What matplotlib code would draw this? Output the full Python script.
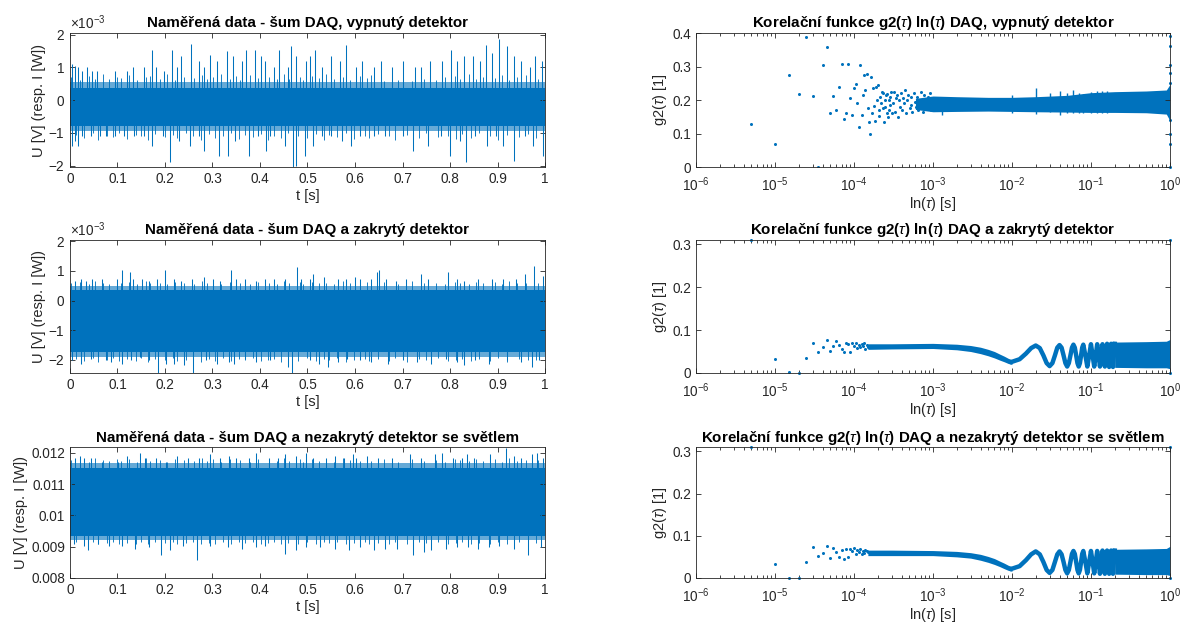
import numpy as np
import matplotlib
matplotlib.use("Agg")
import matplotlib.pyplot as plt
from matplotlib import ticker

plt.rcParams['font.family'] = ['Liberation Sans', 'DejaVu Sans']
plt.rcParams['mathtext.fontset'] = 'custom'
plt.rcParams['mathtext.rm'] = 'Liberation Sans'
plt.rcParams['mathtext.it'] = 'Liberation Sans:italic'
plt.rcParams['axes.unicode_minus'] = False

BLUE = '#0072BD'
GREY = '#262626'
DT = 5e-6  # lag step of the correlation [s]

# ---------------- measured noise (left column) ----------------
# row 1: DAQ noise, detector off  [mV]
core1 = (-0.78, 0.37)
fringe1 = (-0.95, 0.55)
t1_up = [0.005, 0.011, 0.017, 0.025, 0.036, 0.047, 0.057, 0.094, 0.12, 0.132,
         0.155, 0.173, 0.181, 0.197, 0.215, 0.226, 0.234, 0.254, 0.271, 0.282,
         0.294, 0.309, 0.33, 0.343, 0.362, 0.371, 0.39, 0.403, 0.411, 0.43,
         0.44, 0.458, 0.466, 0.476, 0.497, 0.505, 0.516, 0.531, 0.55, 0.569,
         0.58, 0.603, 0.614, 0.64, 0.655, 0.678, 0.70, 0.727, 0.738, 0.757,
         0.784, 0.803, 0.814, 0.829, 0.848, 0.863, 0.876, 0.889, 0.903, 0.919,
         0.934, 0.949, 0.968, 0.978, 0.993]
v1_up = [1.09, 1.04, 1.0, 0.88, 1.0, 0.88, 0.88, 0.88, 0.88, 1.0,
         1.0, 1.54, 1.0, 0.88, 1.54, 1.0, 1.34, 1.72, 1.19, 1.0,
         1.39, 1.19, 1.49, 1.34, 1.19, 1.54, 1.54, 1.34, 1.19, 1.0,
         1.54, 1.0, 1.64, 1.34, 1.19, 1.34, 1.54, 1.0, 1.34, 1.19,
         1.69, 1.0, 1.19, 1.0, 1.19, 1.0, 1.19, 1.0, 1.0, 1.19,
         1.19, 1.54, 1.19, 1.34, 1.34, 1.19, 1.69, 1.44, 1.87, 1.64,
         1.34, 1.19, 1.0, 1.34, 1.19]
t1_dn = [0.005, 0.01, 0.017, 0.026, 0.045, 0.064, 0.075, 0.094, 0.113, 0.135,
         0.155, 0.173, 0.196, 0.21, 0.23, 0.253, 0.271, 0.283, 0.313, 0.332,
         0.347, 0.377, 0.396, 0.413, 0.422, 0.452, 0.469, 0.476, 0.494, 0.511,
         0.531, 0.55, 0.573, 0.592, 0.611, 0.641, 0.663, 0.701, 0.723, 0.754,
         0.78, 0.80, 0.822, 0.833, 0.852, 0.878, 0.897, 0.912, 0.935, 0.958,
         0.974, 0.995]
v1_dn = [-1.4, -1.25, -1.4, -1.1, -1.1, -1.1, -1.1, -1.1, -1.1, -1.1,
         -1.1, -1.4, -1.1, -1.9, -1.25, -1.4, -1.1, -1.55, -1.71, -1.71,
         -1.25, -1.71, -1.1, -1.55, -1.1, -1.4, -2.06, -2.01, -1.71, -1.4,
         -1.1, -1.1, -1.25, -1.4, -1.1, -1.1, -1.1, -1.1, -1.55, -1.4,
         -1.1, -1.71, -1.25, -1.9, -1.1, -1.4, -1.1, -1.4, -1.86, -1.1,
         -1.4, -1.71]

# short excursions just outside the dense band (same time positions in every row)
tm_up = [0.003, 0.021, 0.04, 0.052, 0.07, 0.083, 0.1, 0.108, 0.125, 0.142,
         0.16, 0.168, 0.19, 0.205, 0.221, 0.24, 0.262, 0.277, 0.288, 0.302,
         0.318, 0.336, 0.35, 0.357, 0.38, 0.396, 0.42, 0.435, 0.45, 0.462,
         0.484, 0.49, 0.51, 0.525, 0.54, 0.556, 0.575, 0.59, 0.61, 0.625,
         0.633, 0.66, 0.69, 0.72, 0.745, 0.77, 0.79, 0.81, 0.82, 0.84,
         0.855, 0.87, 0.895, 0.91, 0.925, 0.94, 0.96, 0.985]
tm_dn = [0.012, 0.03, 0.048, 0.058, 0.078, 0.09, 0.104, 0.12, 0.138, 0.15,
         0.164, 0.18, 0.2, 0.216, 0.226, 0.245, 0.258, 0.275, 0.292, 0.305,
         0.322, 0.34, 0.355, 0.368, 0.385, 0.402, 0.416, 0.43, 0.445, 0.458,
         0.48, 0.5, 0.518, 0.535, 0.545, 0.562, 0.58, 0.598, 0.62, 0.63,
         0.648, 0.672, 0.685, 0.71, 0.735, 0.75, 0.775, 0.795, 0.812, 0.826,
         0.845, 0.862, 0.885, 0.9, 0.92, 0.945, 0.965, 0.98]
m1_up = [0.7, 0.62, 0.75, 0.66, 0.8, 0.64, 0.72, 0.68, 0.78, 0.63,
         0.7, 0.74, 0.66, 0.8, 0.62, 0.72, 0.69, 0.76, 0.64, 0.7,
         0.8, 0.66, 0.73, 0.62, 0.77, 0.68, 0.7, 0.64, 0.79, 0.66,
         0.72, 0.63, 0.75, 0.68, 0.8, 0.65, 0.7, 0.62, 0.74, 0.67,
         0.78, 0.6, 0.62, 0.6, 0.66, 0.62, 0.7, 0.74, 0.66, 0.8,
         0.64, 0.72, 0.68, 0.76, 0.63, 0.7, 0.78, 0.66]
m1_dn = [-1.05, -1.15, -1.0, -1.2, -1.08, -1.12, -1.0, -1.18, -1.05, -1.1,
         -1.2, -1.02, -1.12, -1.06, -1.16, -1.0, -1.1, -1.22, -1.04, -1.14,
         -1.08, -1.0, -1.18, -1.06, -1.12, -1.02, -1.2, -1.08, -1.14, -1.0,
         -1.1, -1.16, -1.04, -1.2, -1.06, -1.12, -1.0, -1.18, -1.08, -1.14,
         -1.02, -1.1, -1.2, -1.06, -1.16, -1.0, -1.12, -1.08, -1.18, -1.04,
         -1.14, -1.0, -1.1, -1.22, -1.06, -1.12, -1.02, -1.16]

# row 2: DAQ noise, covered detector  [mV]
core2 = (-1.75, 0.34)
fringe2 = (-1.9, 0.5)
t2_up = [0.01, 0.024, 0.034, 0.047, 0.068, 0.098, 0.109, 0.127, 0.132, 0.151,
         0.166, 0.183, 0.2, 0.219, 0.234, 0.256, 0.283, 0.301, 0.316, 0.339,
         0.35, 0.369, 0.392, 0.411, 0.429, 0.452, 0.478, 0.486, 0.505, 0.512,
         0.535, 0.565, 0.58, 0.599, 0.61, 0.633, 0.646, 0.65, 0.665, 0.686,
         0.708, 0.738, 0.753, 0.795, 0.814, 0.829, 0.859, 0.889, 0.912, 0.938,
         0.957, 0.977, 0.995]
v2_up = [0.67, 0.73, 0.67, 0.73, 0.73, 0.73, 1.03, 0.98, 0.73, 0.73,
         0.67, 0.73, 1.03, 0.73, 0.67, 0.73, 0.79, 0.73, 0.67, 1.03,
         0.73, 0.73, 0.67, 0.73, 0.73, 0.73, 1.12, 0.73, 0.73, 0.9,
         0.79, 0.73, 0.73, 0.79, 0.73, 0.73, 0.95, 1.03, 0.73, 0.67,
         0.73, 0.9, 0.73, 0.95, 0.73, 0.67, 0.73, 0.73, 0.73, 0.73,
         0.9, 1.18, 0.84]
t2_dn = [0.004, 0.024, 0.045, 0.06, 0.075, 0.087, 0.109, 0.128, 0.147, 0.166,
         0.185, 0.203, 0.218, 0.241, 0.26, 0.286, 0.309, 0.335, 0.346, 0.369,
         0.392, 0.422, 0.46, 0.467, 0.505, 0.524, 0.543, 0.565, 0.584, 0.61,
         0.633, 0.67, 0.701, 0.731, 0.761, 0.791, 0.814, 0.829, 0.852, 0.882,
         0.92, 0.95, 0.972, 0.987]
v2_dn = [-2.02, -2.13, -1.97, -1.91, -2.02, -2.08, -2.13, -2.02, -1.91, -2.02,
         -2.47, -2.13, -2.13, -2.19, -2.47, -2.02, -2.13, -2.08, -2.13, -1.97,
         -2.08, -2.02, -2.25, -2.47, -2.02, -2.13, -2.25, -2.08, -1.97, -2.02,
         -2.08, -2.13, -2.02, -2.08, -2.13, -1.97, -2.08, -2.19, -2.02, -2.13,
         -2.02, -2.08, -2.25, -2.02]
m2_up = [0.58, 0.62, 0.55, 0.66, 0.6, 0.57, 0.64, 0.59, 0.62, 0.56,
         0.65, 0.58, 0.61, 0.55, 0.63, 0.6, 0.57, 0.66, 0.59, 0.62,
         0.56, 0.64, 0.58, 0.61, 0.55, 0.63, 0.6, 0.57, 0.65, 0.59,
         0.62, 0.56, 0.64, 0.58, 0.61, 0.55, 0.66, 0.6, 0.57, 0.63,
         0.59, 0.62, 0.56, 0.65, 0.58, 0.61, 0.55, 0.64, 0.6, 0.57,
         0.63, 0.59, 0.62, 0.56, 0.66, 0.58, 0.61, 0.6]
m2_dn = [-1.98, -2.05, -1.95, -2.08, -2.0, -1.96, -2.06, -1.99, -2.03, -1.95,
         -2.07, -1.98, -2.02, -1.96, -2.05, -2.0, -1.97, -2.08, -1.99, -2.03,
         -1.95, -2.06, -1.98, -2.02, -1.96, -2.05, -2.0, -1.97, -2.07, -1.99,
         -2.03, -1.95, -2.06, -1.98, -2.02, -1.96, -2.08, -2.0, -1.97, -2.05,
         -1.99, -2.03, -1.95, -2.07, -1.98, -2.02, -1.96, -2.06, -2.0, -1.97,
         -2.05, -1.99, -2.03, -1.95, -2.08, -1.98, -2.02, -2.0]

# row 3: DAQ noise, uncovered detector with light  [V]
core3 = (0.00935, 0.01150)
fringe3 = (0.00922, 0.01167)
t3_up = [0.011, 0.021, 0.03, 0.045, 0.068, 0.102, 0.121, 0.147, 0.158, 0.181,
         0.203, 0.226, 0.249, 0.271, 0.294, 0.316, 0.335, 0.35, 0.377, 0.392,
         0.418, 0.437, 0.452, 0.475, 0.497, 0.512, 0.539, 0.558, 0.576, 0.595,
         0.603, 0.625, 0.648, 0.678, 0.716, 0.738, 0.768, 0.784, 0.806, 0.825,
         0.836, 0.851, 0.885, 0.918, 0.934, 0.949, 0.972, 0.983, 0.995]
v3_up = [0.01184, 0.0119, 0.01184, 0.01184, 0.01169, 0.01169, 0.0119, 0.012, 0.01184, 0.01184,
         0.01169, 0.0119, 0.01184, 0.01184, 0.01195, 0.01184, 0.0119, 0.01184, 0.01184, 0.012,
         0.01184, 0.01184, 0.01195, 0.0119, 0.012, 0.01184, 0.01184, 0.0119, 0.01184, 0.01195,
         0.01184, 0.0119, 0.01184, 0.01184, 0.01195, 0.01184, 0.01195, 0.012, 0.01184, 0.01184,
         0.01195, 0.01184, 0.01195, 0.01216, 0.0119, 0.01184, 0.01195, 0.012, 0.01184]
t3_dn = [0.008, 0.03, 0.038, 0.06, 0.083, 0.109, 0.136, 0.166, 0.192, 0.211,
         0.237, 0.268, 0.294, 0.332, 0.362, 0.392, 0.411, 0.452, 0.475, 0.497,
         0.527, 0.558, 0.588, 0.61, 0.64, 0.663, 0.689, 0.723, 0.746, 0.761,
         0.791, 0.814, 0.837, 0.859, 0.882, 0.904, 0.934, 0.965, 0.991]
v3_dn = [0.00908, 0.00903, 0.00888, 0.00908, 0.00903, 0.00903, 0.00893, 0.00898, 0.00872, 0.00888,
         0.00903, 0.00856, 0.00903, 0.00898, 0.00893, 0.00898, 0.00903, 0.00877, 0.00888, 0.00898,
         0.00898, 0.00893, 0.00888, 0.00898, 0.00888, 0.00893, 0.00893, 0.00872, 0.00882, 0.00888,
         0.00893, 0.00898, 0.00898, 0.00893, 0.00898, 0.00903, 0.00893, 0.00872, 0.00898]
m3_up = [0.01176, 0.0118, 0.01172, 0.01182, 0.01176, 0.01173, 0.01181, 0.01175, 0.01179, 0.01172,
         0.01182, 0.01175, 0.01178, 0.01172, 0.0118, 0.01176, 0.01173, 0.01182, 0.01175, 0.01179,
         0.01172, 0.01181, 0.01175, 0.01178, 0.01172, 0.0118, 0.01176, 0.01173, 0.01182, 0.01175,
         0.01179, 0.01172, 0.01181, 0.01175, 0.01178, 0.01172, 0.01182, 0.01176, 0.01173, 0.0118,
         0.01175, 0.01179, 0.01172, 0.01181, 0.01175, 0.01178, 0.01172, 0.0118, 0.01176, 0.01173,
         0.0118, 0.01175, 0.01179, 0.01172, 0.01182, 0.01175, 0.01178, 0.01176]
m3_dn = [0.00914, 0.00909, 0.00916, 0.00907, 0.00912, 0.00915, 0.00908, 0.00913, 0.0091, 0.00916,
         0.00907, 0.00914, 0.00911, 0.00915, 0.00909, 0.00912, 0.00915, 0.00907, 0.00913, 0.0091,
         0.00916, 0.00908, 0.00914, 0.00911, 0.00915, 0.00909, 0.00912, 0.00915, 0.00907, 0.00913,
         0.0091, 0.00916, 0.00908, 0.00914, 0.00911, 0.00915, 0.00907, 0.00912, 0.00915, 0.00909,
         0.00913, 0.0091, 0.00916, 0.00908, 0.00914, 0.00911, 0.00915, 0.00908, 0.00912, 0.00915,
         0.00909, 0.00913, 0.0091, 0.00916, 0.00907, 0.00914, 0.00911, 0.00912]

# ---------------- correlation g2 (right column) ----------------
# row 1: sparse lags (index k, tau = k*DT)
k1 = list(range(1, 61)) + [62, 64, 66, 68, 70, 72, 74, 76, 78, 80, 83, 86, 89, 92, 95,
                           98, 101, 104, 107, 110, 114, 118, 122, 126, 130, 135, 140,
                           145, 150, 155, 160, 166, 172, 178, 184, 190, 196]
g1 = [0.127, 0.069, 0.274, 0.218, 0.388, 0.213, 0.0, 0.306, 0.359, 0.161,
      0.211, 0.17, 0.239, 0.308, 0.144, 0.16, 0.308, 0.205, 0.154, 0.236,
      0.248, 0.192, 0.118, 0.304, 0.155, 0.215, 0.276, 0.23, 0.279, 0.175,
      0.135, 0.098, 0.27, 0.16, 0.236, 0.182, 0.137, 0.24, 0.2, 0.245,
      0.17, 0.152, 0.21, 0.19, 0.225, 0.175, 0.22, 0.133, 0.2, 0.18,
      0.215, 0.16, 0.218, 0.15, 0.2, 0.17, 0.21, 0.185, 0.223, 0.16,
      0.19, 0.225, 0.165, 0.205, 0.215, 0.15, 0.2, 0.18, 0.22, 0.17,
      0.205, 0.19, 0.23, 0.16, 0.2, 0.215, 0.175, 0.21, 0.185, 0.165,
      0.22, 0.195, 0.18, 0.21, 0.17, 0.2, 0.225, 0.185, 0.165, 0.215,
      0.195, 0.175, 0.21, 0.19, 0.22, 0.17, 0.2]
band1_tau = [6e-4, 1e-3, 2e-3, 5e-3, 1e-2, 2e-2, 5e-2, 0.1, 0.2, 0.5, 0.9, 0.99, 1.0]
band1_lo = [0.172, 0.165, 0.166, 0.167, 0.166, 0.165, 0.164, 0.163, 0.163, 0.162, 0.158, 0.14, 0.13]
band1_hi = [0.205, 0.212, 0.21, 0.208, 0.208, 0.21, 0.214, 0.222, 0.225, 0.227, 0.23, 0.245, 0.26]
spk1_tau = [0.0013, 0.01, 0.02, 0.03, 0.04, 0.05, 0.06, 0.07, 0.08, 0.1, 0.12, 0.14, 0.16]
spk1_hi = [0.21, 0.215, 0.236, 0.222, 0.226, 0.22, 0.231, 0.22, 0.218, 0.225, 0.228, 0.226, 0.228]
spk1_lo = [0.156, 0.16, 0.157, 0.163, 0.155, 0.162, 0.16, 0.162, 0.16, 0.16, 0.16, 0.16, 0.16]
end1 = [0.39, 0.36, 0.305, 0.28, 0.25, 0.14, 0.1, 0.07, 0.0]

# rows 2 and 3
k23 = list(range(1, 31))
g2 = [0.31, 0.033, 0.003, 0.0, 0.036, 0.069, 0.048, 0.06, 0.077, 0.051,
      0.063, 0.075, 0.066, 0.055, 0.05, 0.069, 0.067, 0.05, 0.069, 0.064,
      0.07, 0.058, 0.065, 0.06, 0.068, 0.062, 0.07, 0.057, 0.066, 0.061]
g3 = [0.31, 0.034, 0.0, 0.0, 0.037, 0.074, 0.053, 0.06, 0.075, 0.048,
      0.072, 0.062, 0.05, 0.066, 0.045, 0.068, 0.05, 0.068, 0.064, 0.07,
      0.058, 0.066, 0.062, 0.069, 0.057, 0.065, 0.06, 0.067, 0.063, 0.061]
slope_tau = [1.5e-4, 3e-4, 1e-3, 2e-3, 3e-3, 4e-3, 5e-3, 6e-3, 7e-3, 8e-3, 9e-3, 1e-2]
slope2_lo = [0.055, 0.056, 0.057, 0.054, 0.05, 0.045, 0.04, 0.035, 0.03, 0.026, 0.022, 0.02]
slope2_hi = [0.068, 0.068, 0.069, 0.067, 0.064, 0.06, 0.055, 0.05, 0.044, 0.039, 0.034, 0.031]
slope3_lo = [0.053, 0.053, 0.053, 0.05, 0.047, 0.042, 0.037, 0.032, 0.027, 0.022, 0.018, 0.016]
slope3_hi = [0.066, 0.066, 0.065, 0.063, 0.06, 0.056, 0.051, 0.046, 0.04, 0.035, 0.03, 0.027]
osc_tau = [0.01, 0.0125, 0.015, 0.0175, 0.02, 0.0225, 0.025, 0.0275, 0.03, 0.0325,
           0.035, 0.0375, 0.04, 0.0425, 0.045, 0.0475, 0.05, 0.0525, 0.055, 0.0575,
           0.06, 0.0625, 0.065, 0.0675, 0.07, 0.0725, 0.075, 0.0775, 0.08,
           0.085, 0.09, 0.095, 0.1, 0.105, 0.11, 0.115, 0.12, 0.125, 0.13, 0.135,
           0.14, 0.145, 0.15, 0.155, 0.16, 0.165, 0.17, 0.175, 0.18, 0.185, 0.19,
           0.195, 0.2]
osc2 = [0.026, 0.032, 0.045, 0.058, 0.064, 0.058, 0.041, 0.023, 0.016, 0.023,
        0.041, 0.059, 0.065, 0.059, 0.041, 0.023, 0.015, 0.023, 0.041, 0.059,
        0.066, 0.059, 0.041, 0.023, 0.015, 0.023, 0.041, 0.059, 0.066,
        0.041, 0.015, 0.041, 0.067, 0.041, 0.015, 0.041, 0.067, 0.041, 0.015, 0.041,
        0.067, 0.041, 0.015, 0.041, 0.068, 0.041, 0.014, 0.041, 0.068, 0.041, 0.014,
        0.041, 0.068]
osc3 = [0.022, 0.028, 0.042, 0.056, 0.063, 0.056, 0.038, 0.019, 0.012, 0.019,
        0.038, 0.056, 0.063, 0.056, 0.038, 0.019, 0.011, 0.019, 0.038, 0.057,
        0.064, 0.057, 0.038, 0.019, 0.011, 0.019, 0.038, 0.057, 0.064,
        0.038, 0.011, 0.038, 0.064, 0.038, 0.011, 0.038, 0.064, 0.038, 0.01, 0.038,
        0.065, 0.038, 0.01, 0.038, 0.065, 0.038, 0.01, 0.038, 0.065, 0.038, 0.01,
        0.038, 0.065]
tail_tau = [0.2, 0.5, 0.9, 1.0]
tail2_lo = [0.013, 0.012, 0.012, 0.01]
tail2_hi = [0.072, 0.073, 0.074, 0.078]
tail3_lo = [0.009, 0.008, 0.008, 0.006]
tail3_hi = [0.068, 0.069, 0.07, 0.075]
end23 = [0.31, 0.0]

titles_left = ['Naměřená data - šum DAQ, vypnutý detektor',
               'Naměřená data - šum DAQ a zakrytý detektor',
               'Naměřená data - šum DAQ a nezakrytý detektor se světlem']
titles_right = [r'Korelační funkce g2($\tau$) ln($\tau$) DAQ, vypnutý detektor',
                r'Korelační funkce g2($\tau$) ln($\tau$) DAQ a zakrytý detektor',
                r'Korelační funkce g2($\tau$) ln($\tau$) DAQ a nezakrytý detektor se světlem']


def style(ax):
    ax.tick_params(which='both', direction='in', top=True, right=True,
                   colors=GREY, labelsize=9.8, width=0.6)
    ax.tick_params(which='major', length=3.5)
    ax.tick_params(which='minor', length=2)
    for s in ax.spines.values():
        s.set_color(GREY)
        s.set_linewidth(0.6)


def noise_panel(ax, core, fringe, tu, vu, td, vd, mu, md, scale, ylim, yticks, title):
    t = [0.0, 1.0]
    ax.fill_between(t, [fringe[0] * scale] * 2, [fringe[1] * scale] * 2,
                    color=BLUE, alpha=0.6, lw=0)
    ax.fill_between(t, [core[0] * scale] * 2, [core[1] * scale] * 2,
                    color=BLUE, lw=0)
    mid = (core[0] + core[1]) / 2 * scale
    ax.vlines(tm_up, mid, np.array(mu) * scale, color=BLUE, lw=0.7, alpha=0.9)
    ax.vlines(tm_dn, mid, np.array(md) * scale, color=BLUE, lw=0.7, alpha=0.9)
    ax.vlines(tu, mid, np.array(vu) * scale, color=BLUE, lw=0.75)
    ax.vlines(td, mid, np.array(vd) * scale, color=BLUE, lw=0.75)
    ax.set_xlim(0, 1)
    ax.set_ylim(*ylim)
    ax.set_xticks(np.arange(0, 1.01, 0.1))
    ax.xaxis.set_major_formatter(ticker.FormatStrFormatter('%g'))
    ax.set_yticks(yticks)
    ax.set_xlabel('t [s]', fontsize=10.5, color=GREY, labelpad=2)
    ax.set_ylabel('U [V] (resp. I [W])', fontsize=10.5, color=GREY, labelpad=2)
    ax.set_title(title, fontsize=10.9, fontweight='bold', color='black', pad=4)
    style(ax)


def corr_axes(ax, ylim, yticks, title):
    ax.set_xscale('log')
    ax.set_xlim(1e-6, 1)
    ax.set_ylim(*ylim)
    ax.set_yticks(yticks)
    ax.yaxis.set_major_formatter(ticker.FormatStrFormatter('%g'))
    ax.xaxis.set_major_locator(ticker.LogLocator(base=10, numticks=10))
    ax.xaxis.set_minor_locator(ticker.LogLocator(base=10, subs=np.arange(2, 10), numticks=100))
    ax.xaxis.set_minor_formatter(ticker.NullFormatter())
    ax.set_xlabel(r'ln($\tau$) [s]', fontsize=10.5, color=GREY, labelpad=1)
    ax.set_ylabel(r'g2($\tau$) [1]', fontsize=10.5, color=GREY, labelpad=2)
    ax.set_title(title, fontsize=10.9, fontweight='bold', color='black', pad=4)
    style(ax)
    ax.tick_params(axis='x', which='major', pad=6)


fig = plt.figure(figsize=(11.82, 6.26), dpi=100)
rows_b = [0.7332, 0.4042, 0.0767]
rows_h = [0.214, 0.2125, 0.209]
axL = [fig.add_axes([0.0592, b, 0.4019, h]) for b, h in zip(rows_b, rows_h)]
axR = [fig.add_axes([0.5888, b, 0.401, h]) for b, h in zip(rows_b, rows_h)]

# left column
noise_panel(axL[0], core1, fringe1, t1_up, v1_up, t1_dn, v1_dn, m1_up, m1_dn, 1e-3,
            (-2.04e-3, 2.05e-3), [-2e-3, -1e-3, 0, 1e-3, 2e-3], titles_left[0])
noise_panel(axL[1], core2, fringe2, t2_up, v2_up, t2_dn, v2_dn, m2_up, m2_dn, 1e-3,
            (-2.45e-3, 2.05e-3), [-2e-3, -1e-3, 0, 1e-3, 2e-3], titles_left[1])
for ax in axL[:2]:
    fmt = ticker.ScalarFormatter(useMathText=True)
    fmt.set_powerlimits((0, 0))
    ax.yaxis.set_major_formatter(fmt)
    ax.yaxis.get_offset_text().set_color(GREY)
    ax.yaxis.get_offset_text().set_fontsize(9.8)
noise_panel(axL[2], core3, fringe3, t3_up, v3_up, t3_dn, v3_dn, m3_up, m3_dn, 1.0,
            (0.008, 0.01218), [0.008, 0.009, 0.01, 0.011, 0.012], titles_left[2])
axL[2].yaxis.set_major_formatter(ticker.FormatStrFormatter('%g'))

# right column, row 1
ax = axR[0]
ax.fill_between(band1_tau, band1_lo, band1_hi, color=BLUE, lw=0)
ax.vlines(spk1_tau, spk1_lo, spk1_hi, color=BLUE, lw=1.0)
ax.plot(np.array(k1) * DT, g1, 'o', color=BLUE, ms=2.2, mew=0)
ax.plot([1.0] * len(end1), end1, 'o', color=BLUE, ms=2.2, mew=0, clip_on=False)
corr_axes(ax, (0, 0.4), [0, 0.1, 0.2, 0.3, 0.4], titles_right[0])

# right column, rows 2 and 3
for ax, g, slo, shi, osc, tlo, thi, title in [
        (axR[1], g2, slope2_lo, slope2_hi, osc2, tail2_lo, tail2_hi, titles_right[1]),
        (axR[2], g3, slope3_lo, slope3_hi, osc3, tail3_lo, tail3_hi, titles_right[2])]:
    ax.fill_between(slope_tau, slo, shi, color=BLUE, lw=0)
    ax.plot(osc_tau, osc, color=BLUE, lw=3.2, solid_joinstyle='round')
    ax.fill_between(tail_tau, tlo, thi, color=BLUE, lw=0)
    ax.plot(np.array(k23) * DT, g, 'o', color=BLUE, ms=2.2, mew=0, clip_on=False)
    ax.plot([1.0] * len(end23), end23, 'o', color=BLUE, ms=2.2, mew=0, clip_on=False)
    corr_axes(ax, (0, 0.31), [0, 0.1, 0.2, 0.3], title)

fig.savefig('out.png', dpi=100)
